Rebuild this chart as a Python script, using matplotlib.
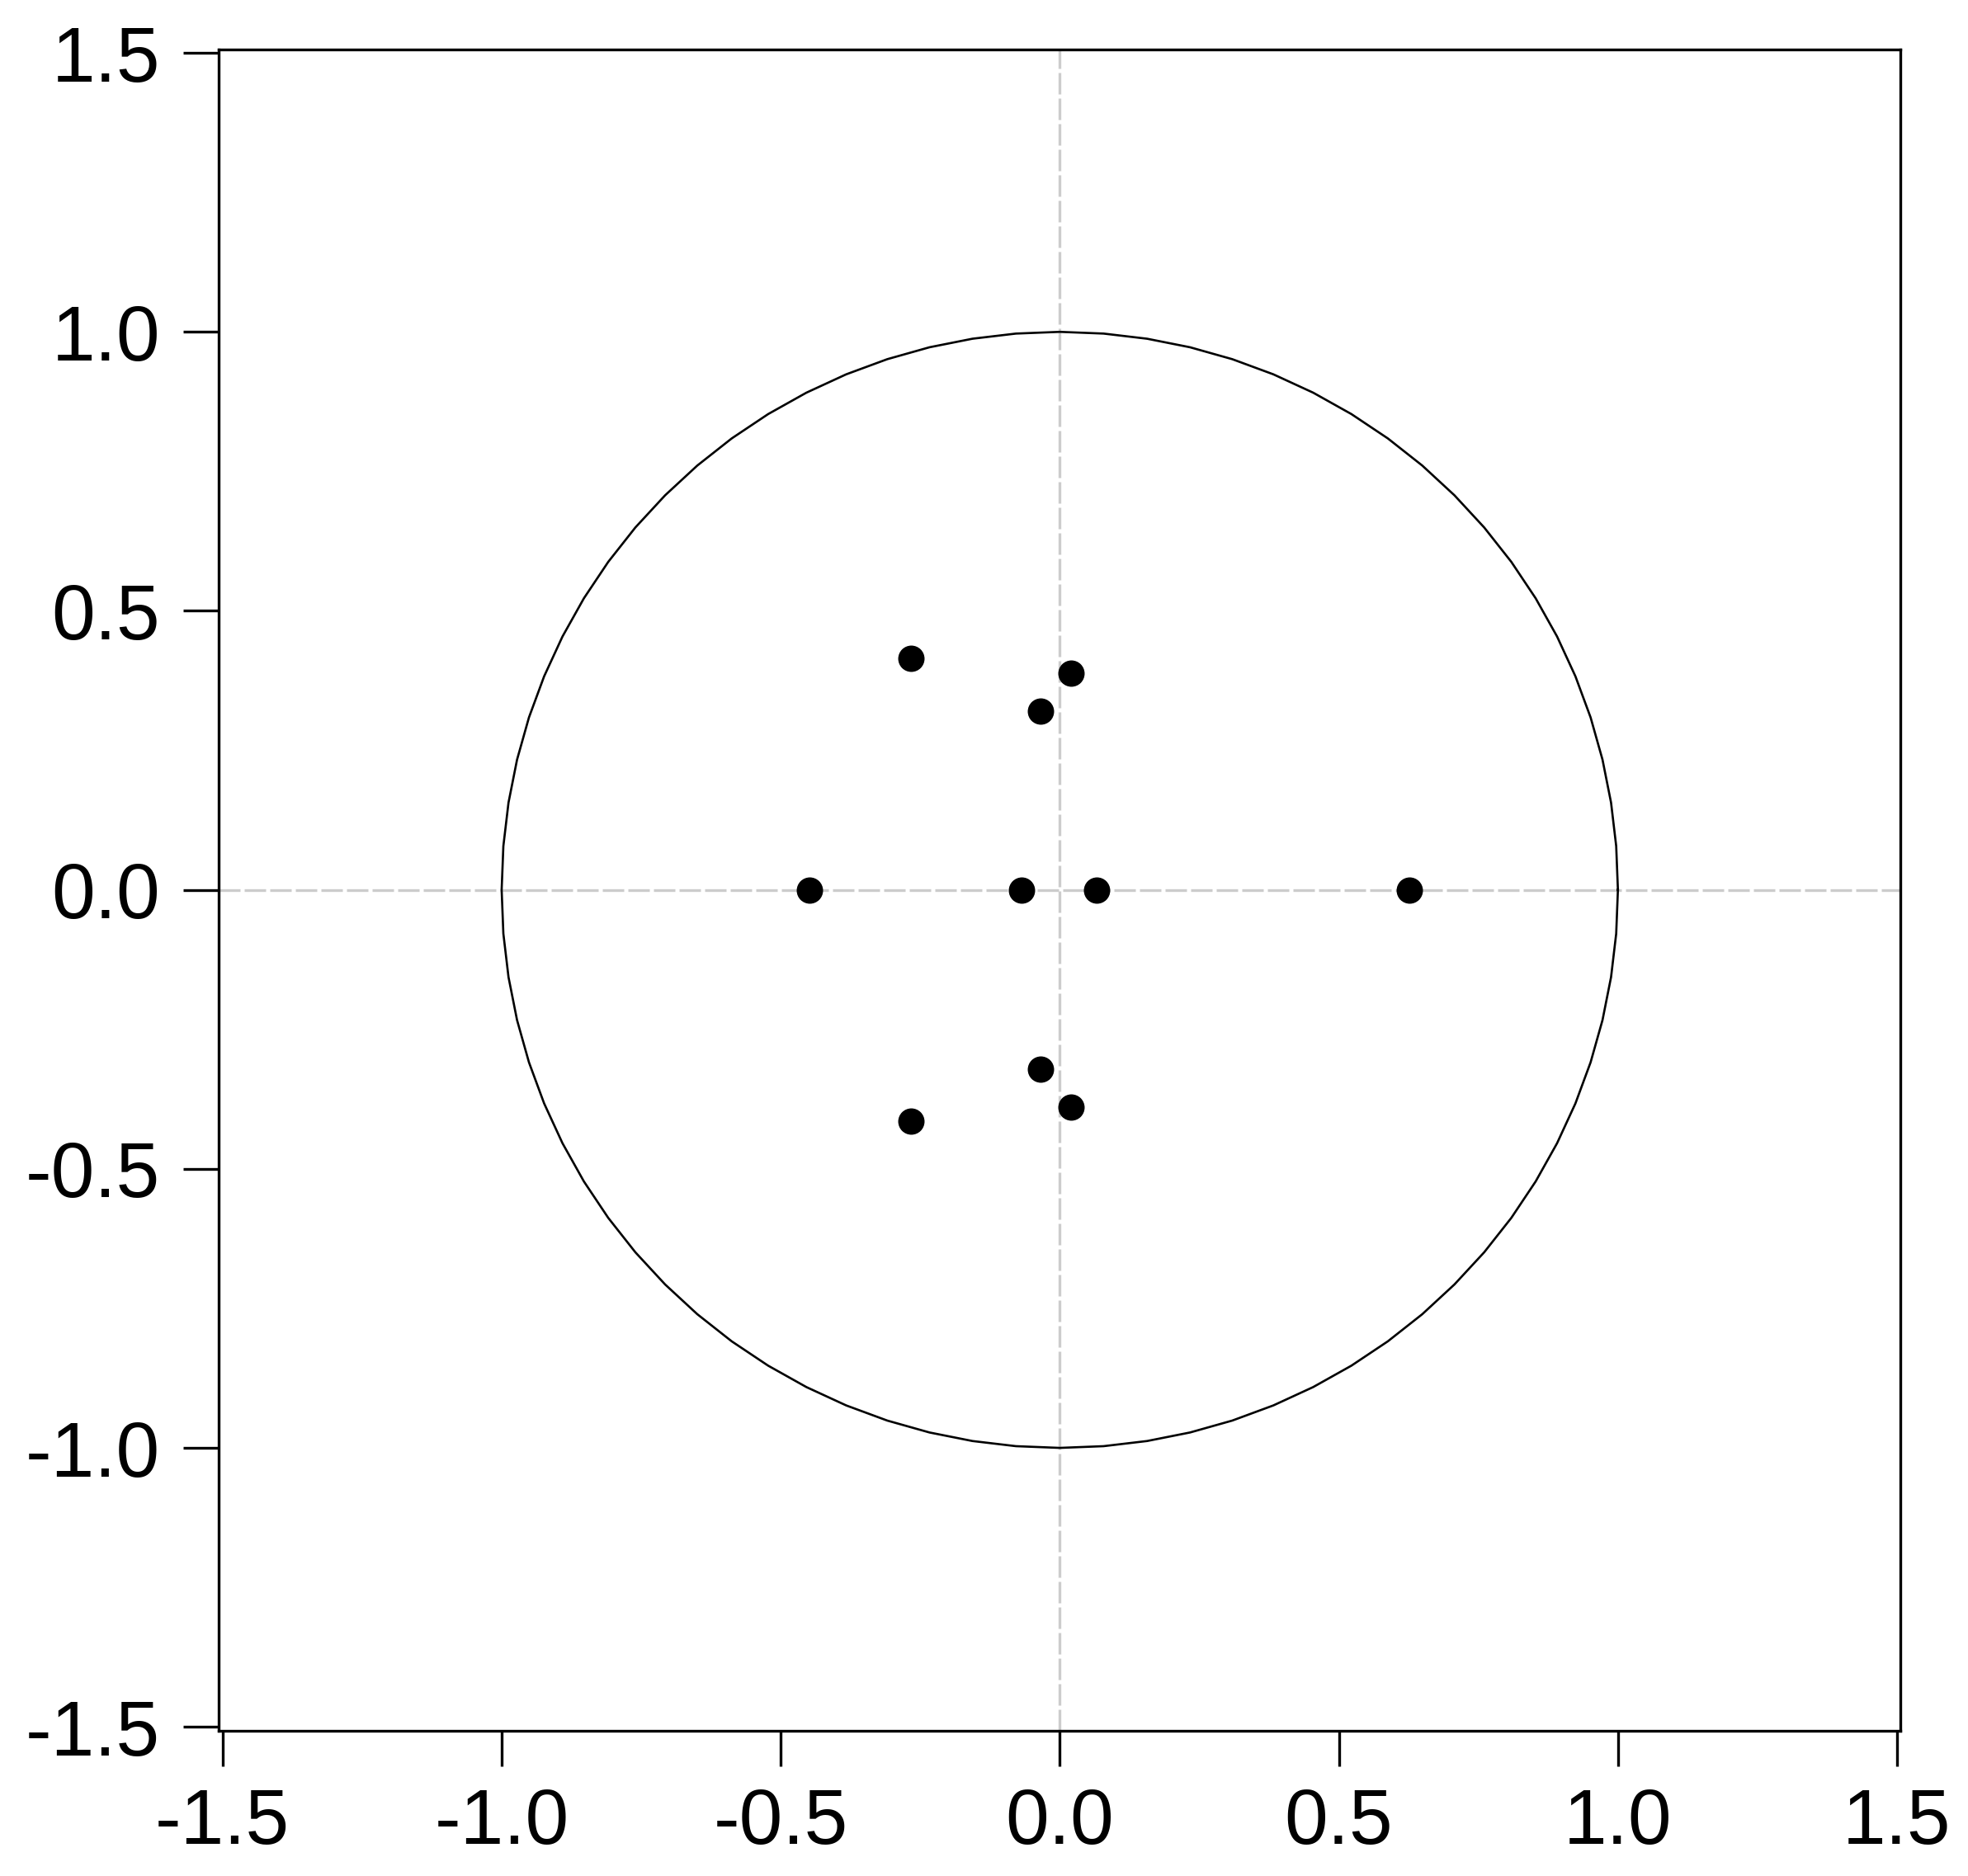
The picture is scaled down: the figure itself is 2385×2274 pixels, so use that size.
import matplotlib
matplotlib.use("Agg")
import matplotlib.pyplot as plt
import numpy as np
from matplotlib.ticker import FixedLocator

# Inverse roots (real, imaginary)
root_re = [-0.267, -0.267, 0.0195, 0.0195, -0.034, -0.034, -0.448, -0.068, 0.066, 0.627]
root_im = [0.415, -0.415, 0.389, -0.389, 0.321, -0.321, 0.0, 0.0, 0.0, 0.0]
ticks = [-1.5, -1.0, -0.5, 0.0, 0.5, 1.0, 1.5]
tick_labels = ["-1.5", "-1.0", "-0.5", "0.0", "0.5", "1.0", "1.5"]

plt.rcParams['font.family'] = ['Liberation Sans', 'DejaVu Sans']

fig = plt.figure(figsize=(23.85, 22.74), dpi=100)
ax = fig.add_axes([265/2385, 1-2098/2274, (2303-265)/2385, (2098-60)/2274])

# reference lines
ax.axhline(0, color='#cccccc', lw=2.4, dashes=(7.8, 1.5), zorder=1)
ax.axvline(0, color='#cccccc', lw=2.4, dashes=(7.8, 1.5), zorder=1)

# unit circle
theta = np.linspace(0, 2*np.pi, 81)
ax.plot(np.cos(theta), np.sin(theta), color='black', lw=1.9, zorder=2)

ax.plot(root_re, root_im, 'o', color='black', markersize=23, markeredgewidth=0, zorder=3)

ax.set_xlim(-1.507, 1.506)
ax.set_ylim(-1.507, 1.506)
ax.xaxis.set_major_locator(FixedLocator(ticks))
ax.yaxis.set_major_locator(FixedLocator(ticks))
ax.set_xticklabels(tick_labels)
ax.set_yticklabels(tick_labels)
ax.tick_params(axis='both', direction='out', length=31, width=2.4, labelsize=68, color='black')
ax.tick_params(axis='x', pad=18)
ax.tick_params(axis='y', pad=20)
for s in ax.spines.values():
    s.set_linewidth(2.4)
    s.set_color('black')

fig.savefig('out.png', dpi=100, facecolor='white')
